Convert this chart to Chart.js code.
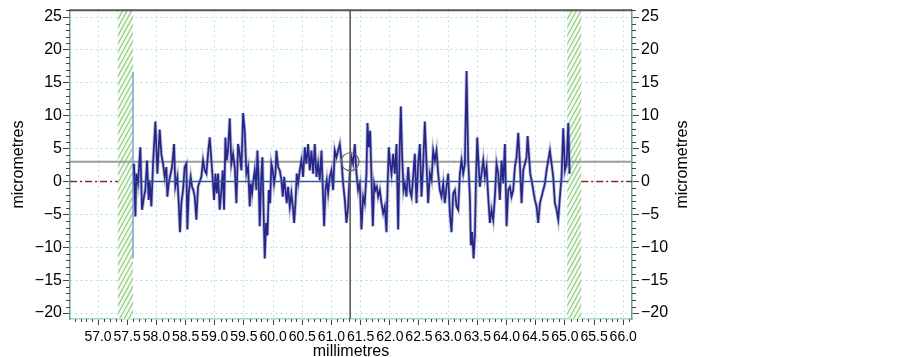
<!DOCTYPE html>
<html><head><meta charset="utf-8">
<script src="https://cdn.jsdelivr.net/npm/chart.js@4.4.0/dist/chart.umd.min.js"></script>
<style>html,body{margin:0;padding:0;background:#fff;}</style>
</head><body>
<canvas id="c" width="903" height="357"></canvas>
<script>
// ---- data (millimetres / micrometres) ----
const profileX = [
57.617,57.640,57.657,57.685,57.725,57.754,57.788,57.811,57.840,57.868,57.885,57.914,57.943,57.983,
58.017,58.057,58.085,58.114,58.143,58.171,58.188,58.211,58.245,58.268,58.303,58.325,58.360,58.383,
58.405,58.428,58.457,58.485,58.514,58.531,58.554,58.588,58.611,58.634,58.657,58.685,58.714,58.743,
58.771,58.800,58.828,58.857,58.885,58.914,58.943,58.971,58.988,59.011,59.034,59.057,59.085,59.114,
59.137,59.160,59.183,59.205,59.228,59.257,59.285,59.314,59.343,59.371,59.400,
59.429,59.457,59.486,59.514,59.543,59.571,59.600,59.617,59.640,59.663,59.686,59.714,59.731,59.754,
59.771,59.800,59.817,59.834,59.857,59.880,59.903,59.926,59.949,59.971,59.994,60.017,60.040,60.057,
60.086,60.114,60.143,60.166,60.189,60.211,60.234,60.257,60.286,60.314,60.343,60.360,60.383,60.406,
60.429,60.457,60.486,60.514,60.543,60.571,60.600,60.629,60.657,60.686,60.714,60.743,60.771,60.800,
60.829,60.857,60.874,60.897,60.920,60.943,60.971,61.000,61.029,61.057,61.086,61.114,61.143,61.171,
61.200,61.229,61.257,
61.286,61.314,61.343,61.371,61.400,61.429,61.457,61.486,61.514,61.543,61.571,61.600,61.617,61.640,
61.663,61.686,61.709,61.732,61.755,61.777,61.800,61.829,61.857,61.886,61.915,61.943,61.960,61.983,
62.006,62.029,62.057,62.086,62.115,62.143,62.166,62.189,62.212,62.235,62.257,62.286,62.315,62.343,
62.372,62.400,62.429,62.457,62.486,62.515,62.543,62.572,62.600,62.629,62.657,62.686,62.715,62.743,
62.772,62.800,62.829,62.857,62.886,62.915,62.943,62.972,63.000,63.029,63.057,63.086,63.115,63.143,
63.172,
63.201,63.229,63.258,63.286,63.315,63.343,63.372,63.389,63.412,63.435,63.458,63.475,63.498,63.515,
63.543,63.572,63.601,63.629,63.658,63.686,63.715,63.743,63.772,63.801,63.829,63.858,63.886,63.915,
63.943,63.972,64.001,64.029,64.058,64.086,64.115,64.143,64.172,64.201,64.229,64.258,64.286,64.315,
64.343,64.361,64.383,64.406,64.429,64.458,64.486,64.515,64.543,64.572,64.601,64.629,64.658,64.686,
64.715,64.743,64.772,64.800,64.829,64.858,64.886,64.915,64.943,64.972,65.001,65.029,65.058,65.080
];
const profileY = [
2.7,-5.3,1.2,-0.3,5.2,-4.3,-2.3,-1.3,3.2,-2.8,0.2,-3.8,2.7,9.1,
1.2,7.9,4.2,2.7,0.7,2.2,-2.3,-0.3,1.2,2.2,5.7,-0.8,0.7,-3.3,
-7.7,-3.3,-1.3,2.2,2.7,-7.3,-1.8,0.7,-0.8,-1.3,-2.3,-5.8,-0.8,0.0,
0.7,3.2,1.7,1.2,4.2,6.7,3.2,-0.3,-2.8,1.2,-1.8,1.2,-4.3,-1.3,
1.7,-4.3,6.7,3.2,4.7,9.6,2.7,4.2,2.2,-3.3,5.7,
4.2,1.7,10.4,7.7,1.2,2.2,-3.8,-0.3,-1.8,0.2,1.7,-1.3,4.7,0.2,
-6.8,1.2,3.7,-3.3,-11.7,-6.3,-8.2,-1.3,-3.3,2.7,1.7,-0.3,1.2,4.7,
2.2,1.7,0.2,-2.3,0.7,-1.3,-3.3,-0.8,-3.8,-1.8,-4.3,-6.3,-3.3,1.2,
-0.3,1.7,3.2,0.7,5.2,2.7,5.7,1.7,4.7,1.2,5.7,0.7,2.7,0.2,
4.7,-2.3,-6.8,-1.3,0.2,-1.8,0.7,1.7,-1.3,4.7,3.7,4.7,5.7,3.2,
-0.3,-2.8,-6.3,
-3.8,1.2,3.7,2.7,5.7,1.2,-1.3,-0.3,-7.3,-2.3,-3.3,1.2,8.9,5.2,
7.7,0.7,-6.8,-0.3,-1.3,-0.8,-2.3,-1.3,-3.3,-4.8,-3.8,-7.7,-1.3,5.2,
2.7,1.2,4.2,1.2,5.7,-7.3,3.7,11.4,3.7,-1.3,-0.3,-2.3,2.2,-1.3,
-2.3,0.7,4.2,-3.3,2.7,5.7,-2.3,2.7,9.1,2.7,-3.3,1.2,0.2,4.7,
3.2,4.7,1.2,-1.3,-2.3,-0.3,-3.3,-0.8,1.2,-4.8,-7.7,-1.8,-1.3,-3.8,
-4.3,
1.2,3.2,1.2,2.7,16.8,3.2,-2.3,-9.7,-7.7,-11.7,-8.2,-0.3,6.7,3.7,
-0.8,1.2,3.2,0.7,2.2,-2.3,-6.3,-4.3,-5.8,-2.3,2.7,1.2,-2.8,3.2,
-0.3,5.7,-6.8,-1.3,-0.8,-2.3,-1.3,2.2,3.7,7.4,2.7,-3.3,1.7,2.7,
3.7,6.9,4.2,1.2,0.2,-1.3,-2.8,-3.8,-6.3,-3.3,-2.3,-1.3,-0.3,1.7,
3.2,4.7,2.7,0.7,-3.3,-4.3,-5.8,-2.3,0.7,8.1,1.7,2.7,8.9,1.2
];
const edgeX = [57.60, 57.60];
const edgeY = [16.7, -11.7];
const dataRangeX = [57.60, 65.06];
const hatchStart = [57.34, 65.04];
const hatchEnd = [57.60, 65.28];
const meanLevel = 3.0;
const cursorX = 61.32;
const xRange = [56.52, 66.15];
const yRange = [-20.9, 26.04];
const xTicks = [57.0,57.5,58.0,58.5,59.0,59.5,60.0,60.5,61.0,61.5,62.0,62.5,63.0,63.5,64.0,64.5,65.0,65.5,66.0];
const yTicks = [-20,-15,-10,-5,0,5,10,15,20,25];
const xTitle = 'millimetres';
const yTitle = 'micrometres';

// ---- chart ----
const FONT = "'Liberation Sans', Arial, sans-serif";
Chart.defaults.font.family = FONT;
Chart.defaults.color = '#000';

const pts = (xs, ys) => xs.map((v, i) => ({x: v, y: ys[i]}));

const hatchPlugin = {
  id: 'hatch',
  beforeDatasetsDraw(chart) {
    const {ctx, chartArea: a, scales: {x}} = chart;
    hatchStart.forEach((s, i) => {
      const x1 = x.getPixelForValue(s), x2 = x.getPixelForValue(hatchEnd[i]);
      const H = a.bottom - a.top;
      ctx.save();
      ctx.beginPath(); ctx.rect(x1, a.top, x2 - x1, H); ctx.clip();
      ctx.fillStyle = '#f7fcf2'; ctx.fillRect(x1, a.top, x2 - x1, H);
      ctx.strokeStyle = '#92cf8c'; ctx.lineWidth = 1.3;
      ctx.beginPath();
      for (let k = -H; k < (x2 - x1) + 10; k += 4.5) {
        ctx.moveTo(x1 + k, a.bottom);
        ctx.lineTo(x1 + k + H * 0.55, a.top);
      }
      ctx.stroke();
      ctx.restore();
    });
  }
};

const minorPlugin = {
  id: 'minor',
  afterDraw(chart) {
    const {ctx, chartArea: a, scales: {x, y}} = chart;
    ctx.save();
    ctx.strokeStyle = '#444'; ctx.lineWidth = 1;
    ctx.beginPath();
    for (let v = -20; v <= 26; v++) {
      if (v % 5 === 0) continue;
      const py = Math.round(y.getPixelForValue(v)) + 0.5;
      ctx.moveTo(a.left - 4, py); ctx.lineTo(a.left, py);
      ctx.moveTo(a.right, py); ctx.lineTo(a.right + 4, py);
    }
    for (let k = 566; k <= 661; k++) {
      if (k % 5 === 0) continue;
      const px = Math.round(x.getPixelForValue(k / 10)) + 0.5;
      ctx.moveTo(px, a.bottom); ctx.lineTo(px, a.bottom + 3);
    }
    ctx.stroke();
    ctx.strokeStyle = '#555'; ctx.lineWidth = 2;
    ctx.beginPath(); ctx.moveTo(a.left, a.top); ctx.lineTo(a.right, a.top); ctx.stroke();
    // right-hand axis title, reading bottom-to-top like the left one
    ctx.fillStyle = '#000';
    ctx.font = '16px ' + FONT;
    ctx.textAlign = 'center'; ctx.textBaseline = 'middle';
    ctx.translate(chart.scales.y2.right - 19, (a.top + a.bottom) / 2);
    ctx.rotate(-Math.PI / 2);
    ctx.fillText(yTitle, 0, 0);
    ctx.restore();
  }
};

const yFmt = v => String(v).replace('-', '\u2212');

function yAxis(pos) {
  return {
    type: 'linear', position: pos, min: yRange[0], max: yRange[1],
    afterBuildTicks: s => { s.ticks = yTicks.map(v => ({value: v})); },
    afterFit: s => { s.width = 70; s.paddingTop = 0; s.paddingBottom = 0; },
    ticks: {font: {size: 16, family: FONT}, color: '#000', padding: pos === 'left' ? 1 : 2, callback: yFmt},
    grid: {display: true, drawOnChartArea: pos === 'left', color: '#a6e2e6', lineWidth: 1,
           tickLength: 7, tickColor: '#444', tickWidth: 1},
    border: {display: true, color: '#6c9e94', width: 1.5, dash: [2, 3]},
    title: {display: pos === 'left', text: yTitle, font: {size: 16, family: FONT}, color: '#000', padding: {top: 9, bottom: 0}}
  };
}

new Chart(document.getElementById('c'), {
  type: 'line',
  data: {
    datasets: [
      {label: 'marker', data: [{x: cursorX, y: meanLevel}], showLine: false, pointRadius: 9,
       pointBackgroundColor: 'rgba(0,0,0,0)', pointBorderColor: '#666', pointBorderWidth: 1.2, order: 0},
      {label: 'cursor', data: [{x: cursorX, y: yRange[0]}, {x: cursorX, y: yRange[1]}],
       borderColor: '#5a5a5a', borderWidth: 1.6, pointRadius: 0, order: 1},
      {label: 'zero', data: [{x: dataRangeX[0], y: 0}, {x: dataRangeX[1], y: 0}],
       borderColor: '#2f5a96', borderWidth: 1.4, pointRadius: 0, order: 2},
      {label: 'profile', data: pts(profileX, profileY), borderColor: '#25258c', borderWidth: 1.7,
       pointRadius: 0, tension: 0, order: 3},
      {label: 'profile halo', data: pts(profileX, profileY), borderColor: 'rgba(110,110,160,0.45)', borderWidth: 3.4,
       pointRadius: 0, tension: 0, order: 4},
      {label: 'edge', data: pts(edgeX, edgeY), borderColor: '#7fa6d6', borderWidth: 1.5, pointRadius: 0, order: 5},
      {label: 'mean', data: [{x: xRange[0], y: meanLevel}, {x: xRange[1], y: meanLevel}],
       borderColor: '#9c9c9c', borderWidth: 2, pointRadius: 0, order: 6},
      {label: 'refL', data: [{x: xRange[0], y: 0}, {x: hatchStart[0], y: 0}],
       borderColor: '#8a2a2a', borderWidth: 1.3, borderDash: [7, 3, 2, 3], pointRadius: 0, order: 7},
      {label: 'refR', data: [{x: hatchEnd[1], y: 0}, {x: xRange[1], y: 0}],
       borderColor: '#8a2a2a', borderWidth: 1.3, borderDash: [7, 3, 2, 3], pointRadius: 0, order: 7}
    ]
  },
  options: {
    responsive: false, animation: false, devicePixelRatio: 1,
    layout: {padding: {left: 0, right: 201, top: 4, bottom: 0}},
    plugins: {legend: {display: false}, tooltip: {enabled: false}},
    scales: {
      x: {
        type: 'linear', position: 'bottom', min: xRange[0], max: xRange[1],
        afterBuildTicks: s => { s.ticks = xTicks.map(v => ({value: v})); },
        afterFit: s => { s.height = 38; s.paddingLeft = 0; s.paddingRight = 0; },
        ticks: {font: {size: 14, family: FONT}, color: '#000', padding: 4, maxRotation: 0, autoSkip: false,
                callback: v => Number(v).toFixed(1)},
        grid: {color: '#b4e8ea', lineWidth: 1, tickLength: 6, tickColor: '#444', tickWidth: 1},
        border: {display: true, color: '#9fd6cf', width: 1.5, dash: [2, 3]},
        title: {display: true, text: xTitle, font: {size: 16, family: FONT}, color: '#000', padding: {top: 0, bottom: -4}}
      },
      y: yAxis('left'),
      y2: yAxis('right')
    }
  },
  plugins: [hatchPlugin, minorPlugin]
});
</script>
</body></html>
